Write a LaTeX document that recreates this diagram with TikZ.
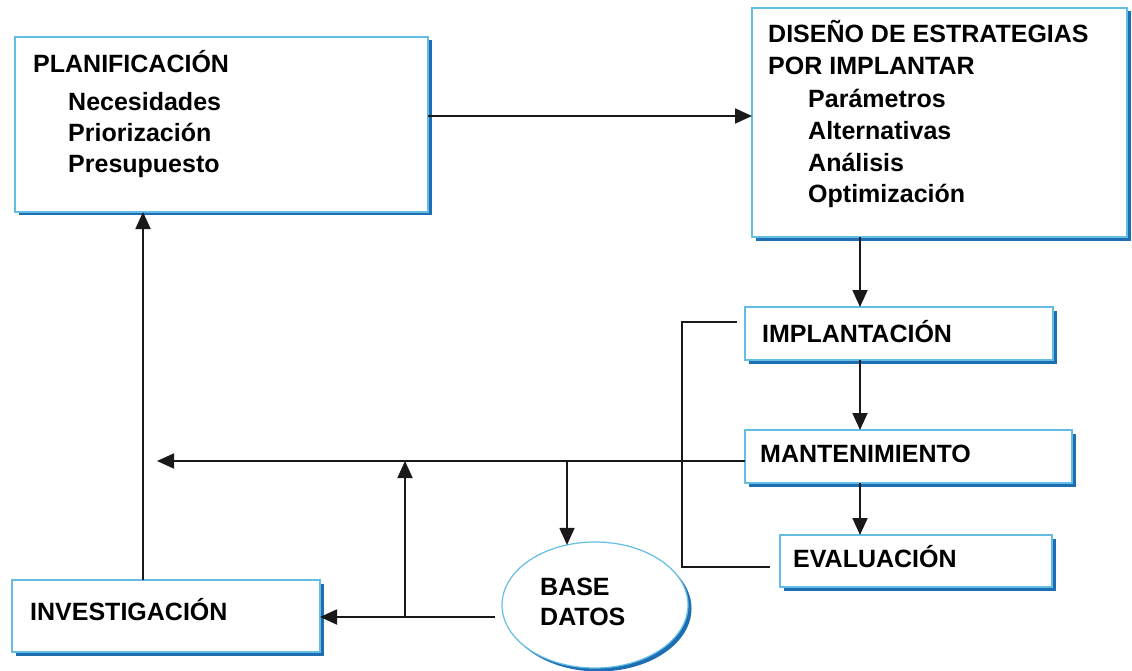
\documentclass[tikz,border=0pt]{standalone}
\usepackage{fontspec}
\setmainfont{Liberation Sans}
\usetikzlibrary{arrows.meta,shadows,shapes.geometric}
\definecolor{boxblue}{RGB}{100,190,228}
\definecolor{shadowblue}{RGB}{30,110,180}
\definecolor{linegray}{RGB}{25,25,25}
\begin{document}
\begin{tikzpicture}[x=1pt,y=-1pt,
  boxst/.style={draw=boxblue, line width=1.2pt, fill=white, inner sep=0pt, outer sep=0pt,
    drop shadow={shadow xshift=3.5pt, shadow yshift=-3.5pt, fill=shadowblue, opacity=1}},
  rectbox/.style={boxst, rectangle},
  txt/.style={anchor=base west, inner sep=0pt, font=\fontsize{25}{30}\selectfont\bfseries},
  conn/.style={draw=linegray, line width=1.8pt},
  arr/.style={conn, -{Triangle[width=15pt,length=17pt]}}]
\useasboundingbox (0,0) rectangle (1132,671);

% boxes
\node[rectbox, minimum width=413pt, minimum height=175pt] (plan) at (221.5,124.5) {};
\node[rectbox, minimum width=375pt, minimum height=229pt] (dis) at (939.5,122.5) {};
\node[rectbox, minimum width=308pt, minimum height=53pt] (impl) at (899,333.5) {};
\node[rectbox, minimum width=327pt, minimum height=53pt] (mant) at (908.5,456.5) {};
\node[rectbox, minimum width=272pt, minimum height=52pt] (eval) at (916,561) {};
\node[rectbox, minimum width=308pt, minimum height=72pt] (inv) at (166,616) {};
\node[boxst, ellipse, minimum width=186pt, minimum height=126pt] (base) at (595,605) {};

% texts
\node[txt] (t1) at (33,73) {PLANIFICACIÓN};
\node[txt] (t2) at (68,111) {Necesidades};
\node[txt] (t3) at (68,142) {Priorización};
\node[txt] (t4) at (68,173) {Presupuesto};
\node[txt] (t5) at (768,43) {DISEÑO DE ESTRATEGIAS};
\node[txt] (t6) at (768,75) {POR IMPLANTAR};
\node[txt] (t7) at (808,108) {Parámetros};
\node[txt] (t8) at (808,140) {Alternativas};
\node[txt] (t9) at (808,172) {Análisis};
\node[txt] (t10) at (808,203) {Optimización};
\node[txt] (t11) at (762,342) {IMPLANTACIÓN};
\node[txt] (t12) at (760,462) {MANTENIMIENTO};
\node[txt] (t13) at (793,567) {EVALUACIÓN};
\node[txt] (t14) at (30,620) {INVESTIGACIÓN};
\node[txt] (t15) at (540,595) {BASE};
\node[txt] (t16) at (540,625) {DATOS};

% helper coordinates
\coordinate (cx) at (860,0);
\coordinate (bx) at (682,0);
\coordinate (ftip) at (157,0);
\coordinate (dcx) at (567,0);
\coordinate (vx) at (405,0);
\coordinate (ux) at (143,0);

% connectors
\draw[arr] ([yshift=8.5pt]plan.east) coordinate (a1) -- (a1 -| dis.west);
\draw[arr] (dis.south -| cx) -- (impl.north -| cx);
\draw[arr] (impl.south -| cx) -- (mant.north -| cx);
\draw[arr] (mant.south -| cx) -- (eval.north -| cx);
\draw[conn] ([xshift=-8pt,yshift=11.5pt]impl.west) coordinate (b1) -- (b1 -| bx) |- ([xshift=-10pt,yshift=-6pt]eval.west);
\draw[arr] ([yshift=-4.5pt]mant.west) coordinate (m1) -- (m1 -| ftip);
\draw[arr] (m1 -| dcx) -- (dcx |- base.115);
\draw[arr] ([xshift=-7pt,yshift=-12pt]base.west) coordinate (b2) -- (b2 -| inv.east);
\draw[arr] (b2 -| vx) -- (m1 -| vx);
\draw[arr] (inv.north -| ux) -- (plan.south -| ux);
\end{tikzpicture}
\end{document}
